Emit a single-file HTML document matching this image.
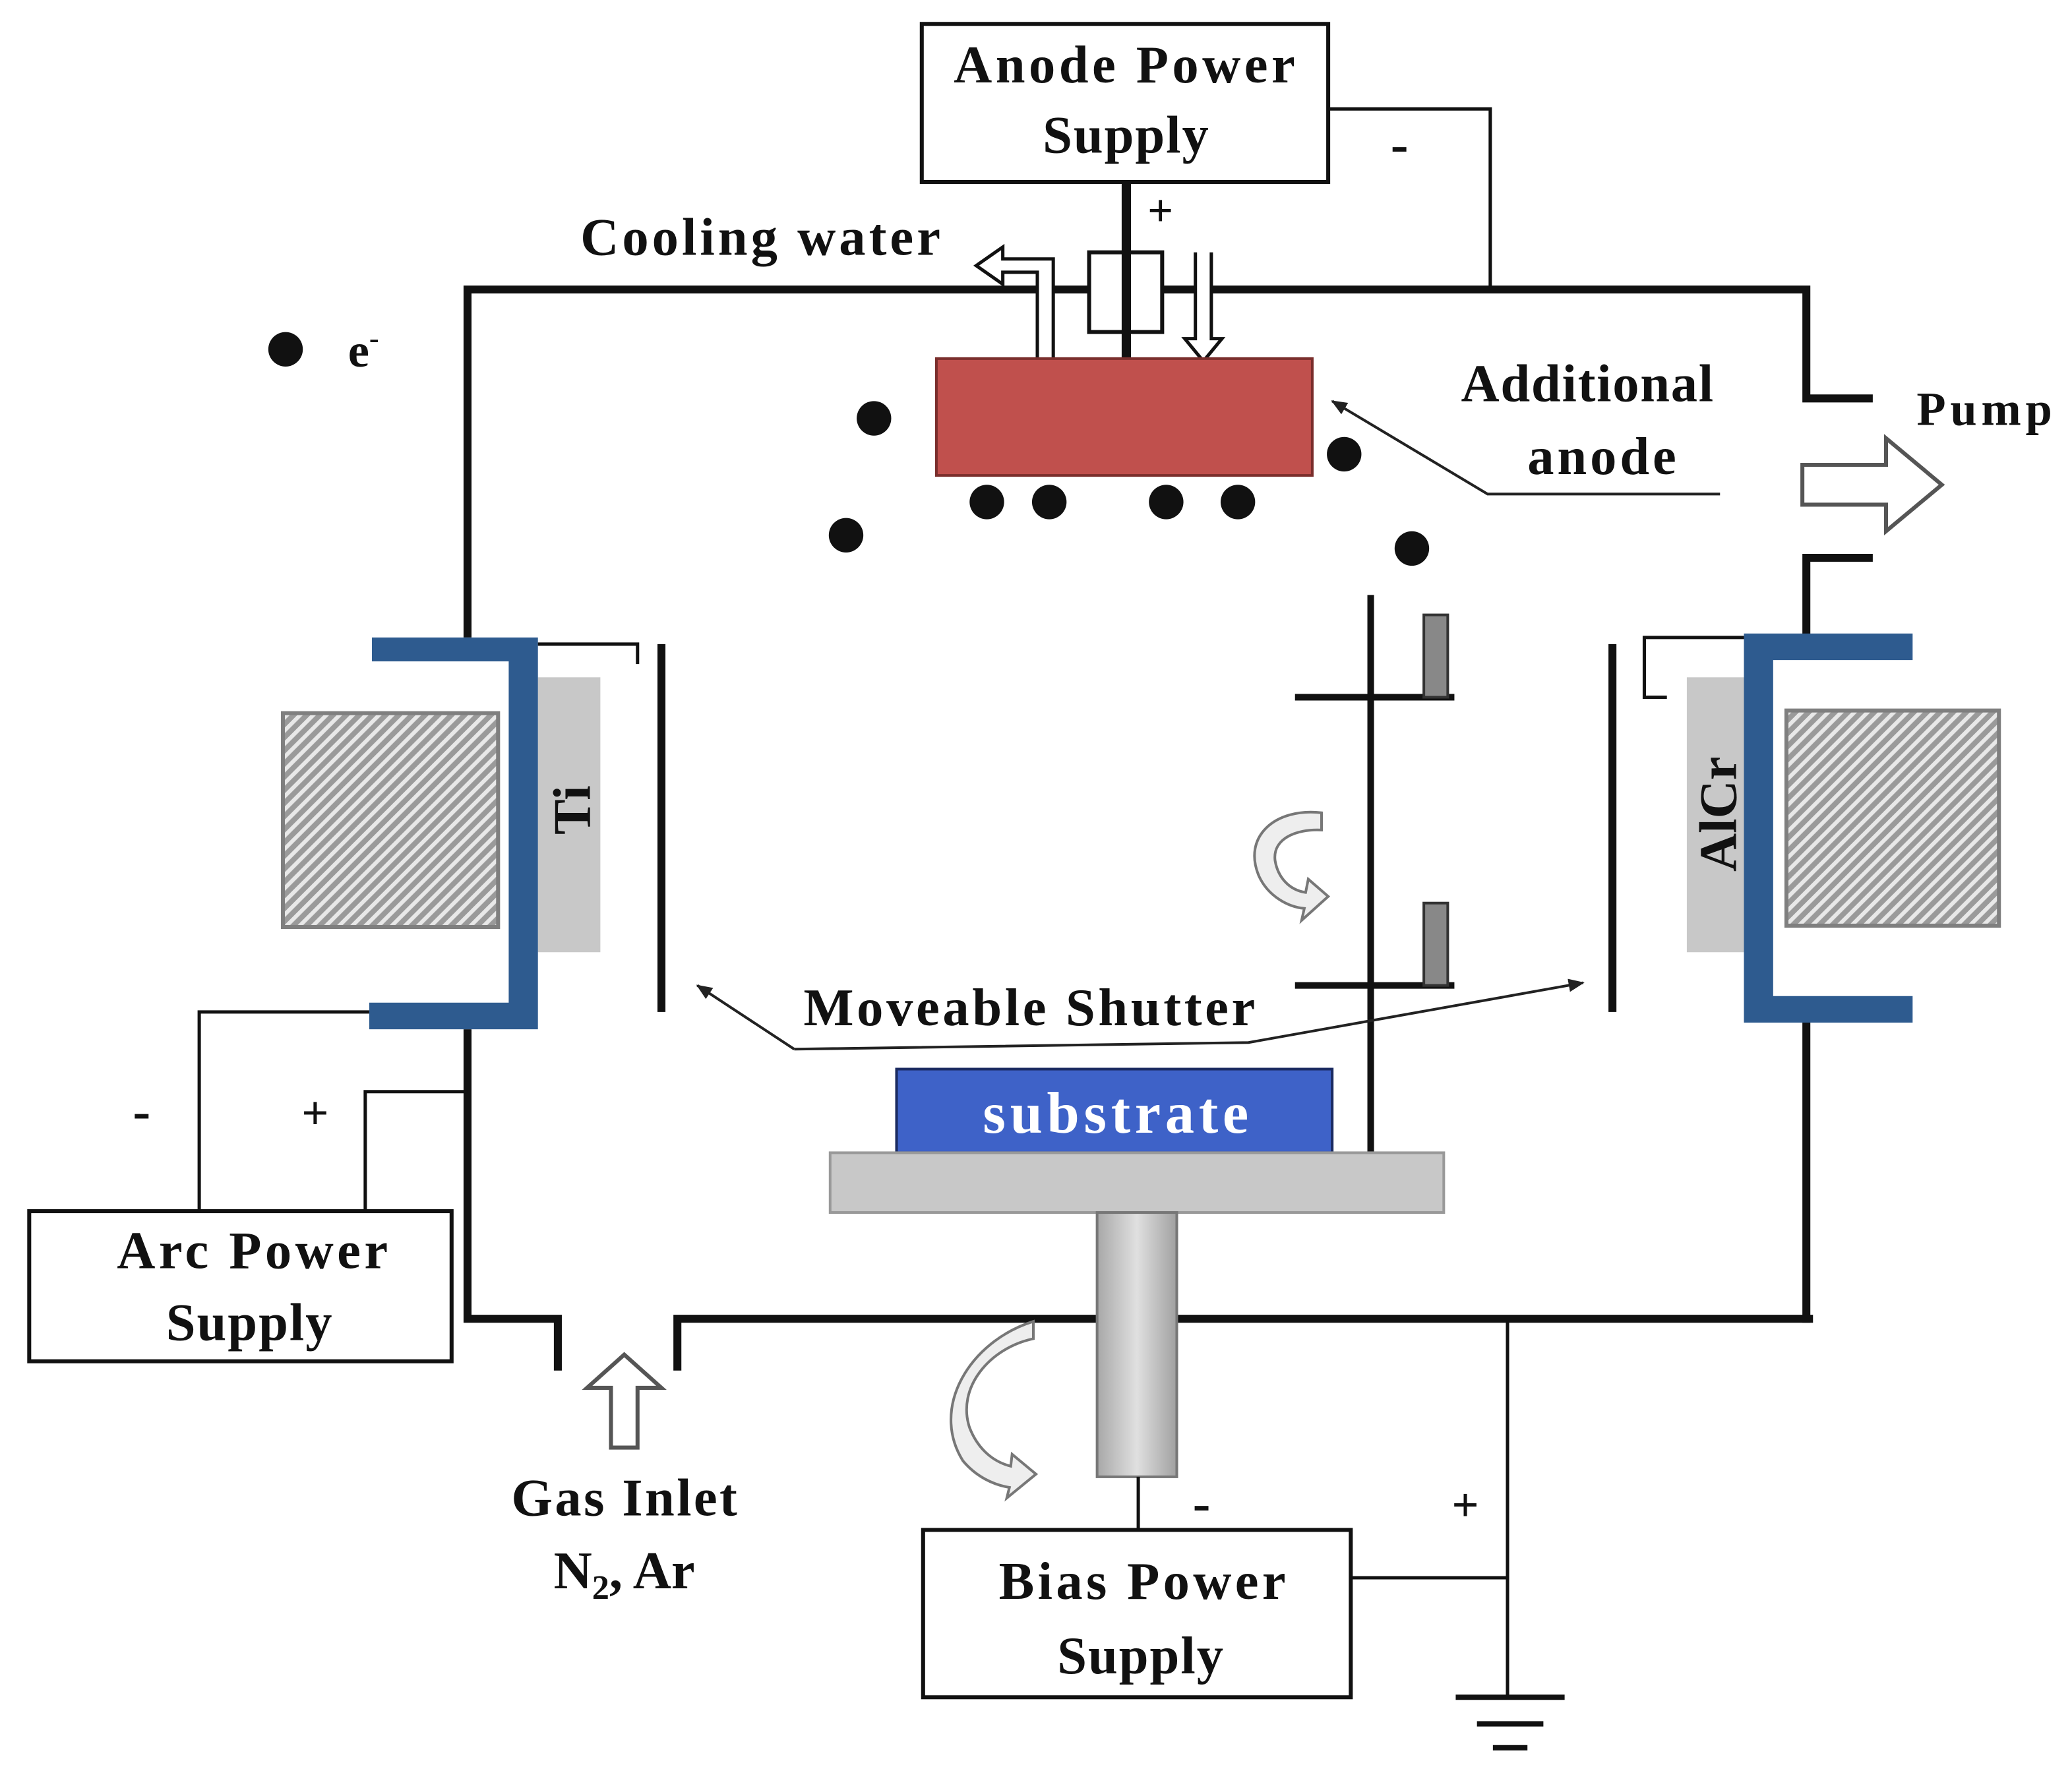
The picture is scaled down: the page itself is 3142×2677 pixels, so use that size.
<!DOCTYPE html>
<html><head><meta charset="utf-8"><style>
html,body{margin:0;padding:0;background:#fff}
svg{display:block}
text{font-family:"Liberation Serif",serif;font-weight:bold;fill:#111}
</style></head><body>
<svg width="3142" height="2677" viewBox="0 0 1560 1329" preserveAspectRatio="none" xmlns="http://www.w3.org/2000/svg">
<defs>
<pattern id="h" width="7" height="7" patternUnits="userSpaceOnUse" patternTransform="rotate(45)">
<rect width="7" height="7" fill="#9a9a9a"/><rect width="3" height="7" fill="#e8e8e8"/>
</pattern>
<linearGradient id="pg" x1="0" x2="1"><stop offset="0" stop-color="#a8a8a8"/><stop offset="0.5" stop-color="#e0e0e0"/><stop offset="1" stop-color="#a0a0a0"/></linearGradient>
<marker id="ar" markerWidth="12" markerHeight="10" refX="11" refY="5" orient="auto" markerUnits="userSpaceOnUse"><path d="M0,0 L12,5 L0,10 Z" fill="#222"/></marker>
</defs>

<rect x="694" y="18" width="306" height="119" fill="#fff" stroke="#111" stroke-width="3"/>
<text x="718" y="62" font-size="40" textLength="257" lengthAdjust="spacing">Anode Power</text>
<text x="785" y="115" font-size="40" textLength="125" lengthAdjust="spacing">Supply</text>
<polyline points="1000,82 1122,82 1122,218" fill="none" stroke="#111" stroke-width="2.5"/>
<text x="1047" y="122" font-size="40">-</text>
<text x="864" y="170" font-size="34">+</text>

<g fill="none" stroke="#111" stroke-width="6">
<polyline points="352,480 352,218 1360,218 1360,300 1410,300"/>
<polyline points="1410,420 1360,420 1360,480"/>
<line x1="1360" y1="768" x2="1360" y2="996"/>
<polyline points="352,775 352,993 420,993 420,1032"/>
<polyline points="510,1032 510,993 1365,993"/>
</g>

<rect x="820" y="190" width="55" height="60" fill="#fff" stroke="#111" stroke-width="3"/>
<line x1="848" y1="137" x2="848" y2="272" stroke="#111" stroke-width="7"/>
<text x="437" y="192" font-size="40" textLength="271" lengthAdjust="spacing">Cooling water</text>
<path d="M793,270 L793,195 L755,195 L755,186 L735,200 L755,214 L755,205 L781,205 L781,270" fill="#fff" stroke="#111" stroke-width="2.5"/>
<path d="M900,190 L900,255 L892,255 L906,272 L920,255 L912,255 L912,190" fill="#fff" stroke="#111" stroke-width="2.5"/>

<circle cx="215" cy="263" r="13" fill="#111"/>
<text x="262" y="276" font-size="36">e<tspan font-size="22" dy="-14">-</tspan></text>

<rect x="705" y="270" width="283" height="88" fill="#c0504d" stroke="#7a2e2c" stroke-width="2"/>
<g fill="#111">
<circle cx="658" cy="315" r="13"/><circle cx="1012" cy="342" r="13"/>
<circle cx="743" cy="378" r="13"/><circle cx="790" cy="378" r="13"/>
<circle cx="878" cy="378" r="13"/><circle cx="932" cy="378" r="13"/>
<circle cx="637" cy="403" r="13"/><circle cx="1063" cy="413" r="13"/>
</g>
<text x="1100" y="302" font-size="40" textLength="190" lengthAdjust="spacing">Additional</text>
<text x="1150" y="357" font-size="40" textLength="112" lengthAdjust="spacing">anode</text>
<polyline points="1295,372 1120,372 1003,302" fill="none" stroke="#222" stroke-width="2" marker-end="url(#ar)"/>

<text x="1443" y="320" font-size="36" textLength="102" lengthAdjust="spacing">Pump</text>
<path d="M1357,350 L1420,350 L1420,330 L1462,365 L1420,400 L1420,380 L1357,380 Z" fill="#fff" stroke="#555" stroke-width="3"/>

<rect x="213" y="537" width="162" height="161" fill="url(#h)" stroke="#7f7f7f" stroke-width="3"/>
<rect x="405" y="510" width="47" height="207" fill="#c8c8c8"/>
<text transform="translate(444,610) rotate(-90)" font-size="40" text-anchor="middle">Ti</text>
<path d="M280,480 L405,480 L405,775 L278,775 L278,755 L383,755 L383,498 L280,498 Z" fill="#2e5b8f"/>
<polyline points="405,485 480,485 480,500" fill="none" stroke="#111" stroke-width="2.5"/>
<line x1="498" y1="485" x2="498" y2="762" stroke="#111" stroke-width="6"/>

<rect x="1345" y="535" width="160" height="162" fill="url(#h)" stroke="#7f7f7f" stroke-width="3"/>
<rect x="1270" y="510" width="43" height="207" fill="#c8c8c8"/>
<text transform="translate(1307,613) rotate(-90)" font-size="40" text-anchor="middle">AlCr</text>
<path d="M1440,477 L1313,477 L1313,770 L1440,770 L1440,750 L1335,750 L1335,497 L1440,497 Z" fill="#2e5b8f"/>
<polyline points="1313,480 1238,480 1238,525 1255,525" fill="none" stroke="#111" stroke-width="2.5"/>
<line x1="1214" y1="485" x2="1214" y2="762" stroke="#111" stroke-width="6"/>

<line x1="1032" y1="448" x2="1032" y2="868" stroke="#111" stroke-width="5"/>
<line x1="975" y1="525" x2="1095" y2="525" stroke="#111" stroke-width="5"/>
<line x1="975" y1="742" x2="1095" y2="742" stroke="#111" stroke-width="5"/>
<rect x="1072" y="463" width="18" height="62" fill="#888" stroke="#333" stroke-width="2"/>
<rect x="1072" y="680" width="18" height="62" fill="#888" stroke="#333" stroke-width="2"/>
<path d="M995,612 C960,608 935,630 948,660 C955,675 970,683 982,684 L980,693 L1000,675 L985,662 L983,672 C970,670 962,660 960,648 C958,632 975,624 995,625 Z" fill="#eee" stroke="#777" stroke-width="2"/>

<text x="605" y="772" font-size="40" textLength="340" lengthAdjust="spacing">Moveable Shutter</text>
<polyline points="598,790 525,742" fill="none" stroke="#222" stroke-width="2" marker-end="url(#ar)"/>
<polyline points="598,790 940,785 1192,740" fill="none" stroke="#222" stroke-width="2" marker-end="url(#ar)"/>

<rect x="675" y="805" width="328" height="63" fill="#3e62c8" stroke="#1a2a60" stroke-width="2"/>
<text x="740" y="853" font-size="44" textLength="200" lengthAdjust="spacing" style="fill:#fff">substrate</text>
<rect x="625" y="868" width="462" height="45" fill="#c8c8c8" stroke="#999" stroke-width="2"/>
<rect x="826" y="913" width="60" height="199" fill="url(#pg)" stroke="#777" stroke-width="2"/>
<path d="M778,995 C730,1010 700,1060 725,1100 C735,1112 748,1118 760,1120 L758,1128 L780,1110 L762,1095 L761,1104 C745,1100 735,1088 730,1075 C720,1045 745,1015 778,1008 Z" fill="#eee" stroke="#777" stroke-width="2"/>

<rect x="695" y="1152" width="322" height="126" fill="#fff" stroke="#111" stroke-width="3"/>
<text x="752" y="1204" font-size="40" textLength="216" lengthAdjust="spacing">Bias Power</text>
<text x="796" y="1260" font-size="40" textLength="125" lengthAdjust="spacing">Supply</text>
<line x1="857" y1="1112" x2="857" y2="1152" stroke="#111" stroke-width="2.5"/>
<text x="898" y="1145" font-size="40">-</text>
<polyline points="1017,1188 1135,1188" fill="none" stroke="#111" stroke-width="2.5"/>
<line x1="1135" y1="995" x2="1135" y2="1278" stroke="#111" stroke-width="2.5"/>
<text x="1093" y="1145" font-size="36">+</text>
<line x1="1096" y1="1278" x2="1178" y2="1278" stroke="#111" stroke-width="4"/>
<line x1="1112" y1="1298" x2="1162" y2="1298" stroke="#111" stroke-width="4"/>
<line x1="1124" y1="1316" x2="1150" y2="1316" stroke="#111" stroke-width="4"/>

<rect x="22" y="912" width="318" height="113" fill="#fff" stroke="#111" stroke-width="3"/>
<text x="88" y="955" font-size="40" textLength="204" lengthAdjust="spacing">Arc Power</text>
<text x="125" y="1009" font-size="40" textLength="125" lengthAdjust="spacing">Supply</text>
<polyline points="150,912 150,762 278,762" fill="none" stroke="#111" stroke-width="2.5"/>
<polyline points="275,912 275,822 352,822" fill="none" stroke="#111" stroke-width="2.5"/>
<text x="100" y="850" font-size="40">-</text>
<text x="227" y="850" font-size="36">+</text>

<path d="M460,1090 L460,1045 L442,1045 L470,1020 L498,1045 L480,1045 L480,1090 Z" fill="#fff" stroke="#555" stroke-width="3"/>
<text x="385" y="1141" font-size="40" textLength="170" lengthAdjust="spacing">Gas Inlet</text>
<text x="470" y="1196" font-size="40" text-anchor="middle">N<tspan font-size="26" dy="8">2</tspan><tspan dy="-8">, Ar</tspan></text>
</svg>
</body></html>
